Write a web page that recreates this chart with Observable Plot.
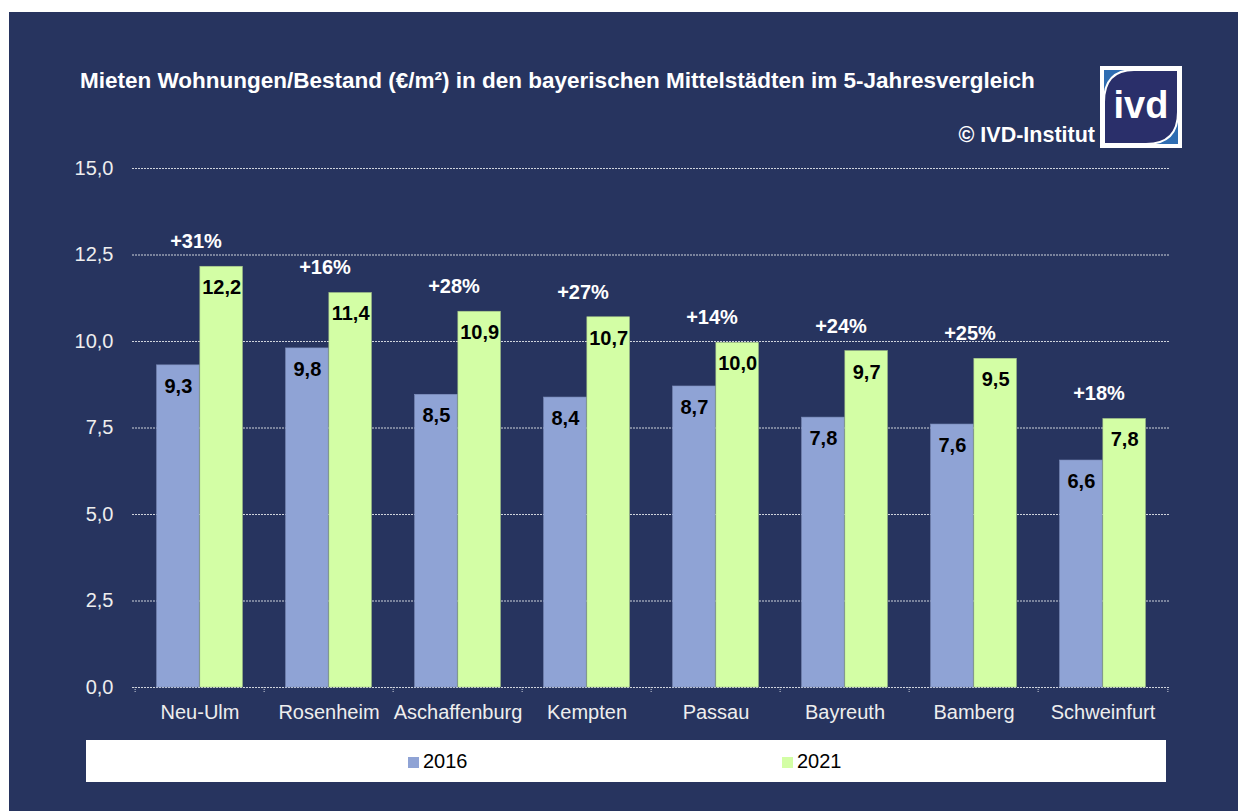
<!DOCTYPE html>
<html>
<head>
<meta charset="utf-8">
<script src="https://cdn.jsdelivr.net/npm/d3@7"></script>
<script src="https://cdn.jsdelivr.net/npm/@observablehq/plot@0.6"></script>
<style>
  html, body { margin: 0; padding: 0; background: #ffffff; }
  #wrap { position: relative; width: 1238px; height: 811px; overflow: hidden; font-family: "Liberation Sans", Arial, sans-serif; }
  #panel { position: absolute; left: 9px; top: 12px; width: 1229px; height: 799px; background: #27345f; }
  #chart { position: absolute; left: 0; top: 0; }
  #title { position: absolute; left: 80px; top: 68px; color: #ffffff; font-weight: bold; font-size: 22.5px; line-height: 26px; white-space: nowrap; }
  #copy { position: absolute; right: 143px; top: 122px; color: #ffffff; font-weight: bold; font-size: 21.5px; line-height: 26px; white-space: nowrap; }
  #logo { position: absolute; left: 1100px; top: 66px; }
  #legend { position: absolute; left: 86px; top: 740px; width: 1080px; height: 42px; background: #ffffff; }
  .sw { position: absolute; top: 17px; width: 11px; height: 11px; }
  .lt { position: absolute; top: 9px; font-size: 20px; line-height: 24px; color: #000; }
</style>
</head>
<body>
<div id="wrap">
  <div id="panel"></div>
  <div id="chart"></div>
  <div id="title">Mieten Wohnungen/Bestand (€/m²) in den bayerischen Mittelstädten im 5-Jahresvergleich</div>
  <div id="copy">© IVD-Institut</div>
  <svg id="logo" width="82" height="82" viewBox="0 0 82 82">
    <rect x="0" y="0" width="82" height="82" fill="#ffffff"/>
    <rect x="4" y="4" width="74" height="74" fill="#2f6db2"/>
    <path d="M 34 4 H 78 V 46 Q 78 78 46 78 H 4 V 36 Q 4 4 34 4 Z" fill="#2a2f6a" stroke="#ffffff" stroke-width="2"/>
    <text x="41" y="52" text-anchor="middle" fill="#ffffff" font-family="Liberation Sans, Arial, sans-serif" font-weight="bold" font-size="38">ivd</text>
  </svg>
  <div id="legend"></div>
</div>
<script>
const cities = ["Neu-Ulm", "Rosenheim", "Aschaffenburg", "Kempten", "Passau", "Bayreuth", "Bamberg", "Schweinfurt"];
const values2016 = [9.31, 9.8, 8.46, 8.38, 8.7, 7.8, 7.6, 6.56];
const values2021 = [12.16, 11.4, 10.86, 10.7, 9.96, 9.72, 9.5, 7.76];
const changeLabels = ["+31%", "+16%", "+28%", "+27%", "+14%", "+24%", "+25%", "+18%"];
const yTicks = [0, 2.5, 5, 7.5, 10, 12.5, 15];
const seriesNames = ["2016", "2021"];
const seriesColors = ["#8fa3d5", "#d3fea5"];

const rows = cities.map((c, i) => ({ city: c, v16: values2016[i], v21: values2021[i], change: changeLabels[i] }));
const fmt = v => v.toFixed(1).replace(".", ",");

const W = 1238, H = 811, mL = 132, mR = 68, mT = 168, mB = 124;
const band = (W - mL - mR) / cities.length;
const half = band / 2;
const barW = band / 3;

const chart = Plot.plot({
  width: W, height: H,
  marginLeft: mL, marginRight: mR, marginTop: mT, marginBottom: mB,
  style: { background: "transparent", color: "#eeeeee", fontFamily: "Liberation Sans, Arial, sans-serif", fontSize: "20px", overflow: "visible" },
  x: { domain: cities, padding: 0, label: null },
  y: { domain: [0, 15], label: null },
  marks: [
    Plot.gridY(yTicks, { stroke: "#cfd3dc", strokeOpacity: 1, strokeDasharray: "2,1" }),
    Plot.axisY(yTicks, { tickSize: 0, tickPadding: 19, tickFormat: fmt, fontSize: 20, label: null }),
    Plot.axisX({ tickSize: 0, tickPadding: 17, fontSize: 20, label: null }),
    Plot.axisX({ tickSize: 6, text: null, dx: -half, stroke: "#cfd3dc", strokeDasharray: "1,1", label: null }),
    Plot.axisX([cities[cities.length - 1]], { tickSize: 6, text: null, dx: half, stroke: "#cfd3dc", strokeDasharray: "1,1", label: null }),
    Plot.barY(rows, { x: "city", y: "v16", fill: seriesColors[0], stroke: "#7f90bd", strokeWidth: 0.6, insetLeft: band / 6, insetRight: band / 2 }),
    Plot.barY(rows, { x: "city", y: "v21", fill: seriesColors[1], stroke: "#a9c98a", strokeWidth: 0.6, insetLeft: band / 2, insetRight: band / 6 }),
    Plot.text(rows, { x: "city", y: "v16", text: d => fmt(d.v16), dx: -barW / 2, dy: 21, fill: "#000000", fontWeight: "bold", fontSize: 20 }),
    Plot.text(rows, { x: "city", y: "v21", text: d => fmt(d.v21), dx: barW / 2, dy: 21, fill: "#000000", fontWeight: "bold", fontSize: 20 }),
    Plot.text(rows, { x: "city", y: "v21", text: "change", dx: -4, dy: -25, fill: "#ffffff", fontWeight: "bold", fontSize: 20 })
  ]
});
document.getElementById("chart").appendChild(chart);

const legend = document.getElementById("legend");
const legendX = [322, 696];
seriesNames.forEach((name, i) => {
  const sw = document.createElement("div");
  sw.className = "sw";
  sw.style.left = legendX[i] + "px";
  sw.style.background = seriesColors[i];
  legend.appendChild(sw);
  const t = document.createElement("div");
  t.className = "lt";
  t.style.left = (legendX[i] + 15) + "px";
  t.textContent = name;
  legend.appendChild(t);
});
</script>
</body>
</html>
